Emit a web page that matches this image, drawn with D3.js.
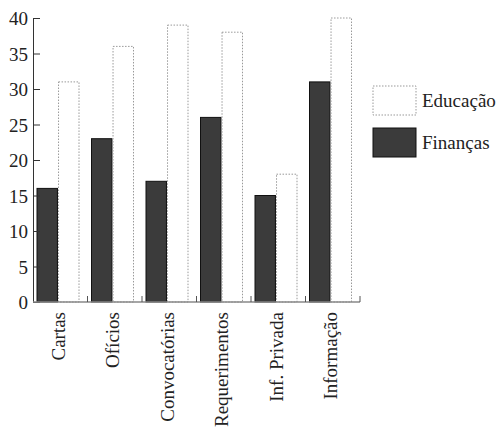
<!DOCTYPE html>
<html>
<head>
<meta charset="utf-8">
<script src="https://cdn.jsdelivr.net/npm/d3@7"></script>
<style>
  body { margin: 0; background: #fff; }
</style>
</head>
<body>
<div class="chart"></div>
<script>
var categories = ["Cartas", "Ofícios", "Convocatórias", "Requerimentos", "Inf. Privada", "Informação"];
var financas = [16, 23, 17, 26, 15, 31];
var educacao = [31, 36, 39, 38, 18, 40];
var seriesNames = ["Finanças", "Educação"];
var yTicks = [0, 5, 10, 15, 20, 25, 30, 35, 40];

var serif = "'Liberation Serif', 'Times New Roman', 'DejaVu Serif', serif";

var margin = { top: 18, right: 139, bottom: 128, left: 33 },
    width = 499 - margin.left - margin.right,
    height = 430 - margin.top - margin.bottom;

var svg = d3.select(".chart").append("svg")
    .attr("width", 499)
    .attr("height", 430);

var g = svg.append("g")
    .attr("transform", "translate(" + margin.left + "," + margin.top + ")");

var x = d3.scaleBand().domain(categories).range([0, width]);
var x1 = d3.scaleBand().domain(seriesNames).range([4, 46]).paddingInner(0.05);
var y = d3.scaleLinear().domain([0, 40]).range([height, 0]);

var data = categories.map(function (c, i) {
    return { cat: c, values: [financas[i], educacao[i]] };
});

// bars
var groups = g.selectAll(".grp")
    .data(data)
    .enter().append("g")
    .attr("transform", function (d) { return "translate(" + x(d.cat) + ",0)"; });

groups.selectAll("rect")
    .data(function (d) { return d.values.map(function (v, i) { return { s: seriesNames[i], v: v }; }); })
    .enter().append("rect")
    .attr("x", function (d) { return x1(d.s); })
    .attr("width", x1.bandwidth())
    .attr("y", function (d) { return y(d.v); })
    .attr("height", function (d) { return height - y(d.v); })
    .attr("fill", function (d) { return d.s === "Finanças" ? "#3b3b3b" : "#fff"; })
    .attr("stroke", function (d) { return d.s === "Finanças" ? "#111" : "#999"; })
    .attr("stroke-width", 1)
    .attr("stroke-dasharray", function (d) { return d.s === "Finanças" ? null : "1.5,1.5"; });

// y axis
var yAxis = d3.axisLeft(y).tickValues(yTicks).tickSizeInner(-7).tickSizeOuter(0).tickPadding(12);
var ya = g.append("g").attr("class", "y axis").call(yAxis)
    .attr("font-family", serif);
ya.select(".domain").attr("stroke", "#333");
ya.selectAll(".tick line").attr("stroke", "#333");
ya.selectAll(".tick text")
    .style("font-family", serif)
    .style("font-size", "19px")
    .attr("fill", "#222")
    .attr("x", -5)
    .attr("dy", "0.35em");

// x axis baseline + boundary ticks
var xa = g.append("g").attr("class", "x axis");
xa.append("line")
    .attr("x1", 0).attr("x2", width)
    .attr("y1", height).attr("y2", height)
    .attr("stroke", "#888").attr("stroke-width", 1.5);
var bounds = categories.map(function (c) { return x(c) + x.bandwidth(); });
xa.selectAll(".bt")
    .data(bounds)
    .enter().append("line")
    .attr("x1", function (d) { return d; }).attr("x2", function (d) { return d; })
    .attr("y1", height).attr("y2", height - 6)
    .attr("stroke", "#555");

// category labels
var xAxis = d3.axisBottom(x).tickSize(0).tickPadding(0);
var xl = g.append("g")
    .attr("transform", "translate(0," + height + ")")
    .call(xAxis)
    .attr("font-family", serif);
xl.select(".domain").remove();
xl.selectAll(".tick text")
    .style("font-family", serif)
    .style("font-size", "19px")
    .attr("fill", "#222")
    .style("text-anchor", "end")
    .attr("x", -10)
    .attr("y", -2)
    .attr("dy", "0.35em")
    .attr("transform", "rotate(-90)");

// legend
var legend = svg.append("g").attr("transform", "translate(373,86)");
var legItems = [
    { name: "Educação", fill: "#fff", stroke: "#999", dash: "1.5,1.5" },
    { name: "Finanças", fill: "#3b3b3b", stroke: "#111", dash: null }
];
var li = legend.selectAll(".li")
    .data(legItems)
    .enter().append("g")
    .attr("transform", function (d, i) { return "translate(0," + (i * 42) + ")"; });
li.append("rect")
    .attr("width", 43).attr("height", 29)
    .attr("fill", function (d) { return d.fill; })
    .attr("stroke", function (d) { return d.stroke; })
    .attr("stroke-dasharray", function (d) { return d.dash; });
li.append("text")
    .attr("x", 49).attr("y", 21)
    .style("font-family", serif)
    .style("font-size", "19px")
    .attr("fill", "#222")
    .text(function (d) { return d.name; });
</script>
</body>
</html>
